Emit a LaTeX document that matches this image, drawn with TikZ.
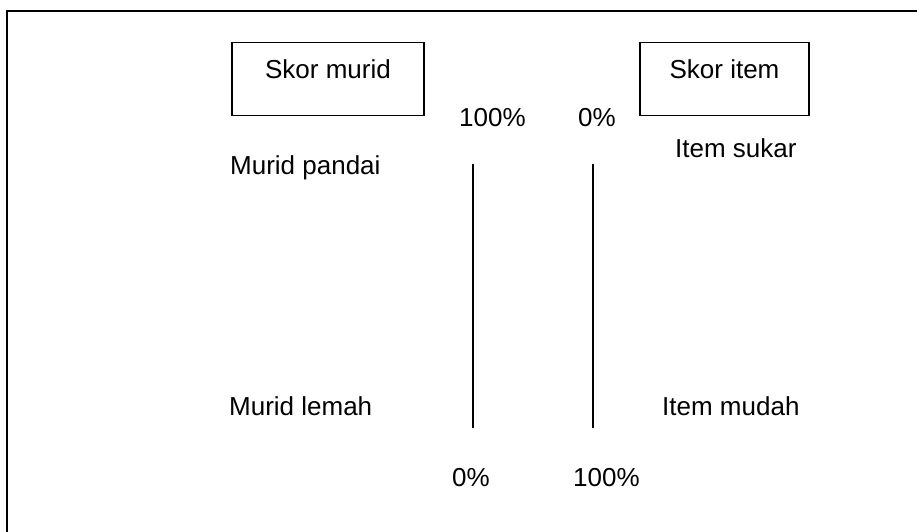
\documentclass[tikz,border=0pt]{standalone}
\usepackage{fontspec}
\setmainfont{Liberation Sans}
\begin{document}
\begin{tikzpicture}[x=1pt,y=-1pt,
  lbl/.style={anchor=base west,inner sep=0pt,font=\fontsize{26}{30}\selectfont},
  scorebox/.style={draw,line width=1.5pt,inner sep=0pt,text height=36pt,text depth=37pt,font=\fontsize{26}{30}\selectfont},
  scale line/.style={line width=1.6pt}]
\useasboundingbox (0,0) rectangle (917,531);
% outer frame (only top and left edges visible)
\coordinate (fbl) at (7,533);
\coordinate (ftl) at (7,11);
\coordinate (ftr) at (919,11);
\draw[line width=2.3pt] (fbl) -- (ftl) -- (ftr);
% boxes
\node[scorebox,minimum width=192pt] (murid) at (328,79) {Skor murid};
\node[scorebox,minimum width=169pt] (item) at (724.5,79) {Skor item};
% labels
\node[lbl] (pandai) at (230,174) {Murid pandai};
\node[lbl] (lemah) at (229,415) {Murid lemah};
\node[lbl] (sukar) at (675,157) {Item sukar};
\node[lbl] (mudah) at (662,415) {Item mudah};
\node[lbl] (mtop) at (459,126) {100\%};
\node[lbl] (itop) at (578,126) {0\%};
\node[lbl] (mbot) at (452,486) {0\%};
\node[lbl] (ibot) at (573,486) {100\%};
% scales
\coordinate (m1) at (472.7,164);
\coordinate (m2) at (472.7,428);
\coordinate (i1) at (592.7,164);
\coordinate (i2) at (592.7,428);
\draw[scale line] (m1) -- (m2);
\draw[scale line] (i1) -- (i2);
\end{tikzpicture}
\end{document}
